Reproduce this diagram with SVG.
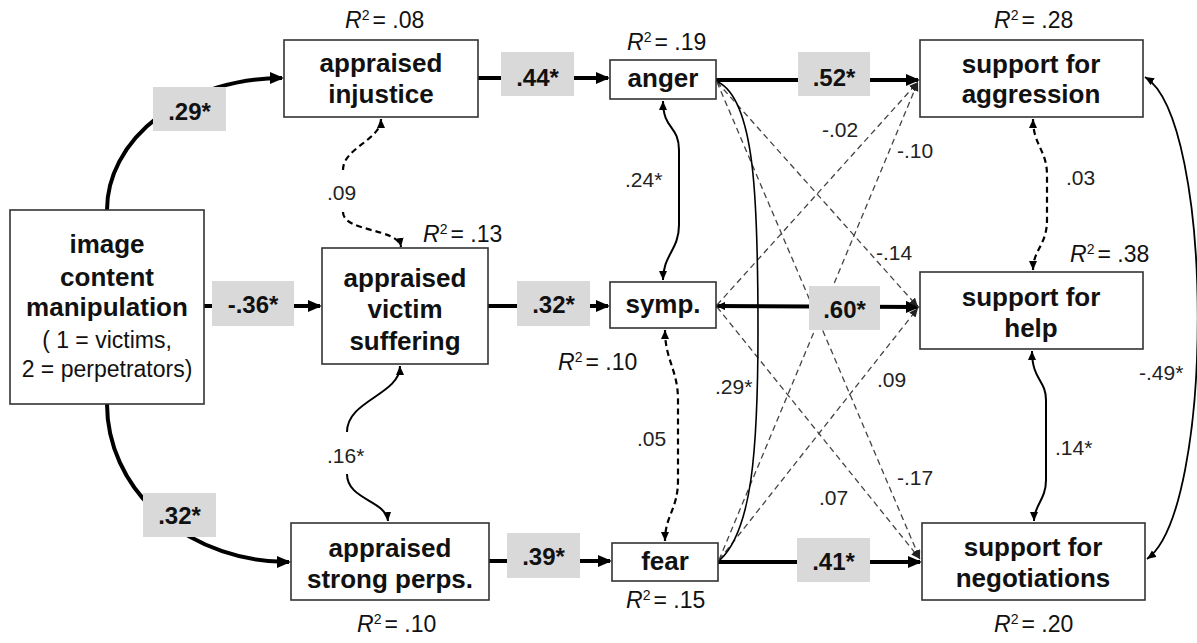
<svg xmlns="http://www.w3.org/2000/svg" width="1197" height="643" viewBox="0 0 1197 643">
<style>
text{font-family:"Liberation Sans",Arial,sans-serif;fill:#111}
.box{fill:#fff;stroke:#333;stroke-width:1.6}
.nl{font-size:26px;font-weight:bold;text-anchor:middle}
.sub{font-size:23px;text-anchor:middle}
.r2{font-size:23px}
.main{fill:none;stroke:#000;stroke-width:4}
.dl{fill:none;stroke:#444;stroke-width:1.3;stroke-dasharray:6 4}
.cov{fill:none;stroke:#000;stroke-width:2}
.covd{fill:none;stroke:#000;stroke-width:2.2;stroke-dasharray:6 4}
.gl{fill:#d9d9d9}
.gt{font-size:24px;font-weight:bold;text-anchor:middle}
.sl{font-size:21px;fill:#222}
</style>
<defs>
<marker id="big" markerUnits="userSpaceOnUse" markerWidth="16" markerHeight="14" refX="12" refY="6" orient="auto"><path d="M0,0 L14,6 L0,12 z" fill="#000"/></marker>
<marker id="sm" markerUnits="userSpaceOnUse" markerWidth="10" markerHeight="9" refX="9" refY="4" orient="auto-start-reverse"><path d="M0,0 L9,4 L0,8 z" fill="#000"/></marker>
<marker id="smd" markerUnits="userSpaceOnUse" markerWidth="10" markerHeight="9" refX="9" refY="4" orient="auto-start-reverse"><path d="M0,0 L9,4 L0,8 z" fill="#222"/></marker>
</defs>

<g id="connectors">
<path class="main" d="M107,210 A176,132 0 0 1 282,78" marker-end="url(#big)"/>
<path class="main" d="M107,404 A181,158 0 0 0 289,562" marker-end="url(#big)"/>
<path class="main" d="M204,306 L320,306" marker-end="url(#big)"/>
<path class="main" d="M478,78 L608,78" marker-end="url(#big)"/>
<path class="main" d="M488,306 L608,306" marker-end="url(#big)"/>
<path class="main" d="M489,561 L610,561" marker-end="url(#big)"/>
<path class="main" d="M716,80 L918,80" marker-end="url(#big)"/>
<path class="main" d="M716,306 L918,307" marker-start="url(#sm)" marker-end="url(#big)"/>
<path class="main" d="M718,562 L920,562" marker-end="url(#big)"/>
<path class="dl" d="M717,82 L918,307" marker-end="url(#smd)"/>
<path class="dl" d="M717,82 L920,559" marker-end="url(#smd)"/>
<path class="dl" d="M717,305 L918,82" marker-end="url(#smd)"/>
<path class="dl" d="M717,307 L920,559" marker-end="url(#smd)"/>
<path class="dl" d="M719,560 L918,82" marker-end="url(#smd)"/>
<path class="dl" d="M719,560 L918,308" marker-end="url(#smd)"/>
<path class="covd" d="M381,119 C381,140 343,148 343,170" marker-start="url(#sm)"/>
<path class="covd" d="M343,212 C343,232 398,228 401,247" marker-end="url(#sm)"/>
<path class="cov" d="M400,366 C400,395 347,400 347,432" marker-start="url(#sm)"/>
<path class="cov" d="M347,474 C347,500 386,500 388,521" marker-end="url(#sm)"/>
<path class="cov" d="M663,101 C663,130 679,125 679,150 L679,225 C679,250 663,255 663,280" marker-start="url(#sm)" marker-end="url(#sm)"/>
<path class="covd" d="M665,330 C665,360 678,370 678,400 L678,480 C678,510 665,515 665,541" marker-start="url(#sm)" marker-end="url(#sm)"/>
<path class="cov" d="M718,82 C755,100 758,200 758,330 C758,450 752,530 720,560" style="stroke-width:1.6"/>
<path class="covd" d="M1033,119 C1033,145 1047,150 1047,175 L1047,220 C1047,245 1033,250 1033,270" marker-start="url(#sm)" marker-end="url(#sm)"/>
<path class="cov" d="M1032,351 C1032,380 1046,380 1046,400 L1046,480 C1046,500 1034,505 1034,521" marker-start="url(#sm)" marker-end="url(#sm)"/>
<path class="cov" d="M1145,77 C1215,120 1215,510 1147,559" style="stroke-width:1.8" marker-start="url(#sm)" marker-end="url(#sm)"/>
<rect class="gl" x="153" y="87" width="73" height="44"/><text class="gt" x="189.5" y="120">.29*</text>
<rect class="gl" x="212" y="281" width="82" height="45"/><text class="gt" x="253" y="313">-.36*</text>
<rect class="gl" x="143" y="493" width="73" height="44"/><text class="gt" x="179.5" y="524">.32*</text>
<rect class="gl" x="501" y="52" width="73" height="44"/><text class="gt" x="537.5" y="86">.44*</text>
<rect class="gl" x="517" y="281" width="73" height="45"/><text class="gt" x="553.5" y="313">.32*</text>
<rect class="gl" x="507" y="533" width="73" height="45"/><text class="gt" x="543.5" y="565">.39*</text>
<rect class="gl" x="798" y="52" width="72" height="44"/><text class="gt" x="834" y="86">.52*</text>
<rect class="gl" x="809" y="286" width="71" height="44"/><text class="gt" x="844.5" y="318">.60*</text>
<rect class="gl" x="797" y="538" width="73" height="44"/><text class="gt" x="833.5" y="570">.41*</text>
<text class="sl" x="327" y="200">.09</text>
<text class="sl" x="327" y="463">.16*</text>
<text class="sl" x="625" y="187">.24*</text>
<text class="sl" x="637" y="446">.05</text>
<text class="sl" x="715" y="394">.29*</text>
<text class="sl" x="822" y="137">-.02</text>
<text class="sl" x="897" y="158">-.10</text>
<text class="sl" x="876" y="260">-.14</text>
<text class="sl" x="1066" y="185">.03</text>
<text class="sl" x="877" y="387">.09</text>
<text class="sl" x="897" y="485">-.17</text>
<text class="sl" x="819" y="505">.07</text>
<text class="sl" x="1055" y="455">.14*</text>
<text class="sl" x="1139" y="380">-.49*</text>
</g>

<g id="n-manip">
<rect class="box" x="10" y="210" width="194" height="194"/>
<text class="nl" x="107" y="253">image</text>
<text class="nl" x="107" y="286">content</text>
<text class="nl" x="107" y="316">manipulation</text>
<text class="sub" x="107" y="348">( 1 = victims,</text>
<text class="sub" x="107" y="377">2 = perpetrators)</text>
</g>
<g id="n-injustice">
<rect class="box" x="284" y="40" width="194" height="77"/>
<text class="nl" x="381" y="72">appraised</text>
<text class="nl" x="381" y="103">injustice</text>
<text class="r2" x="345" y="28"><tspan font-style="italic">R</tspan><tspan font-size="14" baseline-shift="super">2</tspan><tspan dx="3">= .08</tspan></text>
</g>
<g id="n-suffering">
<rect class="box" x="322" y="248" width="166" height="116"/>
<text class="nl" x="405" y="287">appraised</text>
<text class="nl" x="405" y="318">victim</text>
<text class="nl" x="405" y="350">suffering</text>
<text class="r2" x="423" y="242"><tspan font-style="italic">R</tspan><tspan font-size="14" baseline-shift="super">2</tspan><tspan dx="3">= .13</tspan></text>
</g>
<g id="n-perps">
<rect class="box" x="291" y="523" width="198" height="77"/>
<text class="nl" x="390" y="557">appraised</text>
<text class="nl" x="390" y="588">strong perps.</text>
<text class="r2" x="357" y="632"><tspan font-style="italic">R</tspan><tspan font-size="14" baseline-shift="super">2</tspan><tspan dx="3">= .10</tspan></text>
</g>
<g id="n-anger">
<rect class="box" x="610" y="60" width="106" height="39"/>
<text class="nl" x="663" y="87">anger</text>
<text class="r2" x="627" y="50"><tspan font-style="italic">R</tspan><tspan font-size="14" baseline-shift="super">2</tspan><tspan dx="3">= .19</tspan></text>
</g>
<g id="n-symp">
<rect class="box" x="610" y="282" width="106" height="46"/>
<text class="nl" x="663" y="313">symp.</text>
<text class="r2" x="558" y="370"><tspan font-style="italic">R</tspan><tspan font-size="14" baseline-shift="super">2</tspan><tspan dx="3">= .10</tspan></text>
</g>
<g id="n-fear">
<rect class="box" x="612" y="543" width="106" height="38"/>
<text class="nl" x="665" y="570">fear</text>
<text class="r2" x="626" y="608"><tspan font-style="italic">R</tspan><tspan font-size="14" baseline-shift="super">2</tspan><tspan dx="3">= .15</tspan></text>
</g>
<g id="n-aggression">
<rect class="box" x="920" y="40" width="223" height="77"/>
<text class="nl" x="1031" y="73">support for</text>
<text class="nl" x="1031" y="103">aggression</text>
<text class="r2" x="994" y="28"><tspan font-style="italic">R</tspan><tspan font-size="14" baseline-shift="super">2</tspan><tspan dx="3">= .28</tspan></text>
</g>
<g id="n-help">
<rect class="box" x="920" y="272" width="223" height="77"/>
<text class="nl" x="1031" y="306">support for</text>
<text class="nl" x="1031" y="337">help</text>
<text class="r2" x="1070" y="262"><tspan font-style="italic">R</tspan><tspan font-size="14" baseline-shift="super">2</tspan><tspan dx="3">= .38</tspan></text>
</g>
<g id="n-negotiations">
<rect class="box" x="922" y="523" width="223" height="77"/>
<text class="nl" x="1033" y="556">support for</text>
<text class="nl" x="1033" y="587">negotiations</text>
<text class="r2" x="994" y="632"><tspan font-style="italic">R</tspan><tspan font-size="14" baseline-shift="super">2</tspan><tspan dx="3">= .20</tspan></text>
</g>
</svg>
